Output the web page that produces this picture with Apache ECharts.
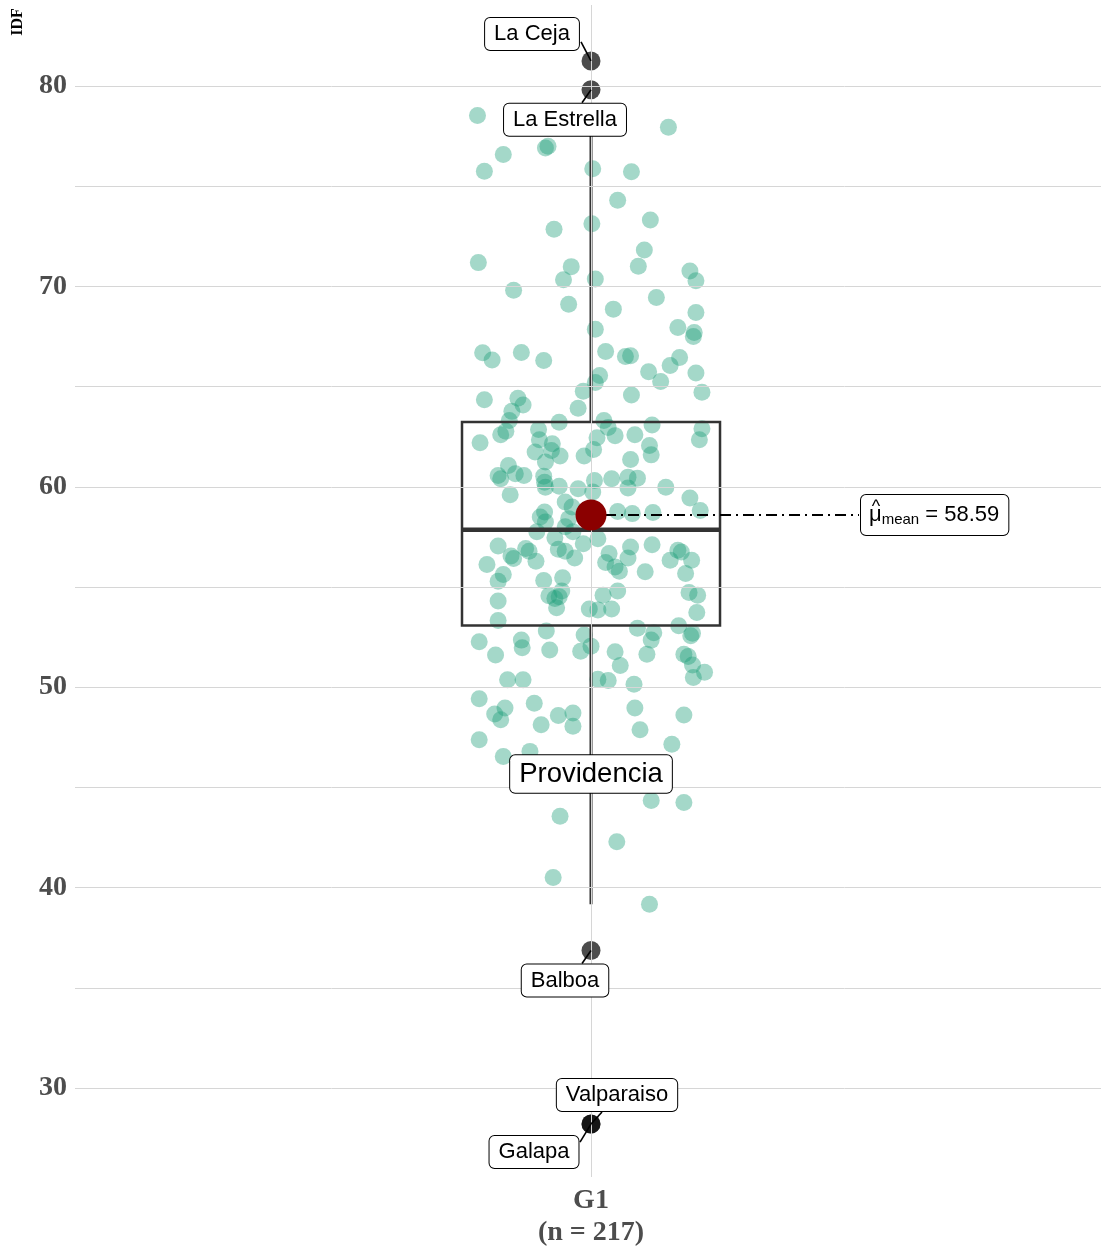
<!DOCTYPE html>
<html><head><meta charset="utf-8">
<script src="https://cdn.jsdelivr.net/npm/echarts@6/dist/echarts.min.js"></script>
<style>html,body{margin:0;padding:0;background:#fff}#c{width:1101px;height:1249px}</style>
</head><body><div id="c"></div><script>
// ---- data ----
const groupName = 'G1';
const nLabel = '(n = 217)';
const yAxisTitle = 'IDF';
const yTicks = [30, 40, 50, 60, 70, 80];
const gridValues = [30, 35, 40, 45, 50, 55, 60, 65, 70, 75, 80];
// jitter offsets (category units) and IDF values of the individual observations
const jitterX = [
 -0.132,0.090,-0.050,-0.053,-0.102,-0.124,0.002,0.047,0.031,0.001,0.069,-0.043,
 -0.131,0.062,-0.023,0.055,0.115,-0.032,0.005,0.122,-0.090,0.076,-0.026,0.026,0.122,0.005,0.101,0.120,0.119,
 -0.126,-0.115,-0.081,-0.055,0.017,0.040,0.046,0.103,0.092,0.067,0.122,0.081,0.010,0.005,
 -0.124,-0.085,-0.079,-0.009,0.047,0.129,-0.092,-0.015,-0.095,-0.099,-0.105,-0.037,0.015,0.020,0.028,0.051,0.071,0.129,0.126,
 -0.129,-0.061,-0.060,-0.045,-0.046,-0.065,-0.036,0.007,0.003,-0.008,-0.053,0.068,0.070,0.046,-0.096,-0.108,-0.105,-0.088,-0.078,
 -0.055,-0.053,-0.054,-0.037,-0.015,0.004,0.002,0.024,0.043,0.054,0.043,0.087,-0.094,0.115,0.127,-0.030,-0.022,-0.054,-0.059,
 0.031,0.048,0.072,-0.026,
 -0.063,-0.042,-0.030,-0.021,-0.009,0.008,-0.053,-0.108,-0.076,-0.072,-0.093,-0.090,-0.064,-0.038,-0.030,-0.019,0.021,0.017,
 0.028,0.033,0.043,0.046,0.071,0.101,0.105,0.092,0.117,0.110,0.063,-0.121,-0.102,-0.108,-0.055,-0.033,-0.034,-0.049,-0.042,
 -0.037,-0.040,-0.108,0.014,0.031,-0.002,0.008,0.024,0.114,0.124,0.123,-0.108,0.102,0.118,0.116,0.054,0.073,0.070,-0.052,
 -0.008,0.000,-0.130,-0.081,-0.080,-0.048,-0.012,-0.111,0.028,0.065,0.108,0.113,
 0.034,0.118,0.132,0.119,-0.097,-0.079,0.008,0.020,0.050,-0.130,-0.066,-0.100,-0.112,-0.105,-0.038,-0.021,-0.021,-0.058,
 0.051,0.057,0.108,-0.130,0.094,-0.102,-0.071,
 0.070,0.108,-0.036,0.030,-0.044,0.068
];
const idf = [
 78.52,77.93,76.98,76.90,76.57,75.74,75.86,75.71,74.29,73.12,73.30,72.85,
 71.18,71.81,70.98,71.00,70.76,70.33,70.36,70.27,69.80,69.44,69.10,68.86,68.69,67.86,67.94,67.69,67.49,
 66.68,66.32,66.70,66.30,66.75,66.50,66.53,66.45,66.05,65.74,65.67,65.25,65.55,65.20,
 64.34,64.41,64.08,64.76,64.58,64.71,63.76,63.92,63.30,62.77,62.59,63.22,63.30,62.96,62.55,62.59,63.08,62.89,62.34,
 62.19,62.85,62.35,62.14,61.81,61.73,61.53,62.44,61.86,61.53,61.23,62.06,61.59,61.36,61.06,60.56,60.40,60.65,60.56,
 60.53,59.98,60.23,60.02,59.90,60.31,59.74,60.40,60.48,60.43,59.94,59.98,59.60,59.44,58.82,59.24,58.99,58.74,58.49,
 58.77,58.66,58.71,58.41,
 57.75,57.45,58.00,57.75,57.16,57.41,58.24,57.05,56.92,56.78,56.55,56.42,56.28,56.88,56.78,56.45,56.67,56.22,
 56.00,55.79,56.45,57.00,57.11,56.83,56.75,56.33,56.33,55.67,55.76,56.12,55.62,55.29,55.32,55.46,54.80,54.56,54.43,
 54.51,53.97,54.30,54.59,54.80,53.90,53.85,53.90,54.73,54.59,53.73,53.33,53.07,52.69,52.57,52.94,52.72,52.35,52.80,
 52.60,52.05,52.27,52.35,51.97,51.86,51.80,51.61,51.77,51.64,51.64,51.53,
 51.08,51.11,50.75,50.48,50.37,50.37,50.40,50.33,50.15,49.42,49.20,48.96,48.66,48.38,48.59,48.71,48.05,48.13,
 48.96,47.88,48.62,47.38,47.16,46.55,46.80,
 44.35,44.25,43.57,42.29,40.51,39.17
];
// box statistics: lower whisker, Q1, median, Q3, upper whisker
const boxStats = [39.17, 53.08, 57.86, 63.23, 78.52];
const meanValue = 58.59;
const outlierNames = ['La Ceja', 'La Estrella', 'Balboa', 'Valparaiso', 'Galapa'];
const outlierValues = [81.24, 79.80, 36.87, 28.21, 28.21];
const extraLabelNames = ['Providencia'];
const extraLabelValues = [45.67];

// ---- styles (pixel offsets of label boxes and connectors) ----
const labelStyle = [
  {dx: -59, dy: -27, line: [-10, -19], size: 22},
  {dx: -26, dy: 30, line: [-9, 13], size: 22},
  {dx: -26, dy: 30, line: [-9, 13], size: 22},
  {dx: 26, dy: -29, line: [11, -12], size: 22},
  {dx: -57, dy: 28, line: [-11, 18], size: 22},
  {dx: 0, dy: 0, line: null, size: 27.5}
];
const serif = '"Liberation Serif", "Times New Roman", serif';
const sans = '"Liberation Sans", Arial, sans-serif';

const labelNames = outlierNames.concat(extraLabelNames);
const labelData = outlierValues.concat(extraLabelValues).map(v => [1, v]);
const points = jitterX.map((o, i) => [1 + o, idf[i]]);

const chart = echarts.init(document.getElementById('c'), null, {renderer: 'canvas'});
chart.setOption({
  animation: false,
  backgroundColor: '#fff',
  grid: {left: 75, right: 0, top: 5, bottom: 69},
  xAxis: {
    type: 'value', min: 0.4, max: 1.593,
    axisLine: {show: false}, axisTick: {show: false}, splitLine: {show: false},
    axisLabel: {
      customValues: [1], margin: 8,
      formatter: () => groupName + '\n' + nLabel,
      fontFamily: serif, fontWeight: 'bold', fontSize: 28, lineHeight: 32, color: '#4d4d4d'
    }
  },
  yAxis: {
    type: 'value', min: 25.57, max: 84.03,
    axisLine: {show: false}, axisTick: {show: false}, splitLine: {show: false},
    axisLabel: {
      customValues: yTicks, margin: 8,
      fontFamily: serif, fontWeight: 'bold', fontSize: 28, color: '#4d4d4d'
    }
  },
  graphic: [{
    type: 'text', x: 18, y: 22, rotation: Math.PI / 2,
    style: {text: yAxisTitle, fontFamily: '"Liberation Serif", serif', fontWeight: 'bold', fontSize: 16,
      fill: '#000', align: 'center', verticalAlign: 'middle'}
  }],
  series: [
    {
      type: 'scatter', z: 0, silent: true, symbolSize: 0, data: [[1, meanValue]],
      markLine: {
        silent: true, symbol: 'none', label: {show: false},
        lineStyle: {color: '#d6d6d6', width: 1, type: 'solid'},
        data: gridValues.map(v => ({yAxis: v})).concat([{xAxis: 1}])
      }
    },
    {
      type: 'scatter', z: 2, symbolSize: 17, data: points,
      itemStyle: {color: '#1B9E77', opacity: 0.4}
    },
    {
      type: 'custom', z: 3, data: [boxStats],
      encode: {y: [0, 1, 2, 3, 4]},
      renderItem: (params, api) => {
        const lo = api.coord([1, api.value(0)]);
        const q1 = api.coord([1, api.value(1)]);
        const md = api.coord([1, api.value(2)]);
        const q3 = api.coord([1, api.value(3)]);
        const hi = api.coord([1, api.value(4)]);
        const hw = api.size([0.15, 0])[0];
        const cx = Math.round(md[0]);
        const st = {stroke: '#333', fill: null};
        return {type: 'group', children: [
          {type: 'line', shape: {x1: cx, y1: lo[1], x2: cx, y2: q1[1]}, style: Object.assign({lineWidth: 3}, st)},
          {type: 'line', shape: {x1: cx, y1: q3[1], x2: cx, y2: hi[1]}, style: Object.assign({lineWidth: 3}, st)},
          {type: 'rect', shape: {x: md[0] - hw, y: q3[1], width: 2 * hw, height: q1[1] - q3[1]}, style: Object.assign({lineWidth: 2.5}, st)},
          {type: 'line', shape: {x1: md[0] - hw, y1: md[1], x2: md[0] + hw, y2: md[1]}, style: Object.assign({lineWidth: 4.5}, st)}
        ]};
      }
    },
    {
      type: 'scatter', z: 4, symbolSize: 19, data: outlierValues.map(v => [1, v]),
      itemStyle: {color: '#000', opacity: 0.7}
    },
    {
      type: 'custom', z: 5, data: [[1, meanValue]],
      renderItem: (params, api) => {
        const p = api.coord([api.value(0), api.value(1)]);
        return {type: 'group', children: [
          {type: 'line', shape: {x1: p[0] + 14, y1: p[1], x2: p[0] + 268, y2: p[1]},
            style: {stroke: '#000', lineWidth: 2, lineDash: [11, 5, 2, 5]}},
          {type: 'text', x: p[0] + 270, y: p[1],
            style: {
              text: '{mu|μ}{sub|mean}{eq| = ' + meanValue.toFixed(2) + '}',
              align: 'left', verticalAlign: 'middle',
              backgroundColor: '#fff', borderColor: '#000', borderWidth: 1, borderRadius: 5,
              padding: [6, 9, 6, 8],
              rich: {
                mu: {fontFamily: sans, fontSize: 22, fill: '#000', lineHeight: 28},
                sub: {fontFamily: sans, fontSize: 15, fill: '#000', lineHeight: 28, padding: [10, 0, 0, 0]},
                eq: {fontFamily: sans, fontSize: 22, fill: '#000', lineHeight: 28}
              }
            }},
          {type: 'text', x: p[0] + 285, y: p[1] - 8,
            style: {text: '^', fontFamily: sans, fontSize: 18, fill: '#000', align: 'center', verticalAlign: 'middle'}}
        ]};
      }
    },
    {
      type: 'scatter', z: 6, symbolSize: 31, data: [[1, meanValue]],
      itemStyle: {color: '#8B0000', opacity: 1}
    },
    {
      type: 'custom', z: 7, data: labelData,
      renderItem: (params, api) => {
        const i = params.dataIndex;
        const p = api.coord([api.value(0), api.value(1)]);
        const s = labelStyle[i];
        const ch = [];
        if (s.line) ch.push({type: 'line', shape: {x1: p[0], y1: p[1], x2: p[0] + s.line[0], y2: p[1] + s.line[1]},
          style: {stroke: '#000', lineWidth: 1.6}});
        ch.push({type: 'text', x: p[0] + s.dx, y: p[1] + s.dy,
          style: {text: labelNames[i], fontFamily: sans, fontSize: s.size, fill: '#000',
            align: 'center', verticalAlign: 'middle', lineHeight: s.size + 2,
            backgroundColor: '#fff', borderColor: '#000', borderWidth: 1, borderRadius: 5,
            padding: [4, 9, 4, 9]}});
        return {type: 'group', children: ch};
      }
    }
  ]
});
</script></body></html>
